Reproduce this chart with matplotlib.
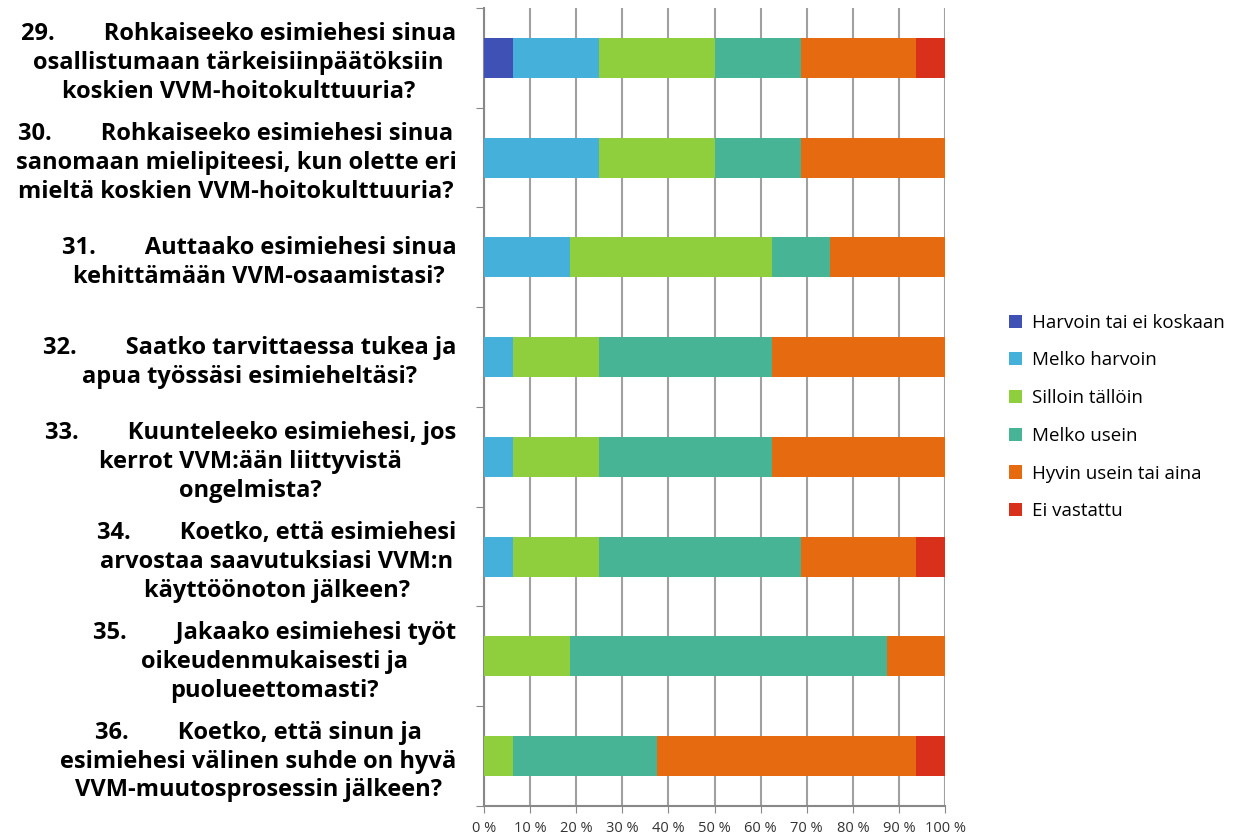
import numpy as np
import matplotlib
matplotlib.use('Agg')
import matplotlib.pyplot as plt

plt.rcParams['font.family'] = ['Open Sans', 'DejaVu Sans']

# kysymykset (ylhäältä alas)
questions = [
    '29.        Rohkaiseeko esimiehesi sinua\nosallistumaan tärkeisiinpäätöksiin\nkoskien VVM-hoitokulttuuria?',
    '30.        Rohkaiseeko esimiehesi sinua\nsanomaan mielipiteesi, kun olette eri\nmieltä koskien VVM-hoitokulttuuria?',
    '31.        Auttaako esimiehesi sinua\nkehittämään VVM-osaamistasi?',
    '32.        Saatko tarvittaessa tukea ja\napua työssäsi esimieheltäsi?',
    '33.        Kuunteleeko esimiehesi, jos\nkerrot VVM:ään liittyvistä\nongelmista?',
    '34.        Koetko, että esimiehesi\narvostaa saavutuksiasi VVM:n\nkäyttöönoton jälkeen?',
    '35.        Jakaako esimiehesi työt\noikeudenmukaisesti ja\npuolueettomasti?',
    '36.        Koetko, että sinun ja\nesimiehesi välinen suhde on hyvä\nVVM-muutosprosessin jälkeen?',
]

series = ['Harvoin tai ei koskaan', 'Melko harvoin', 'Silloin tällöin',
          'Melko usein', 'Hyvin usein tai aina', 'Ei vastattu']

harvoin = [6.25, 0, 0, 0, 0, 0, 0, 0]
melko_harvoin = [18.75, 25, 18.75, 6.25, 6.25, 6.25, 0, 0]
silloin = [25, 25, 43.75, 18.75, 18.75, 18.75, 18.75, 6.25]
melko_usein = [18.75, 18.75, 12.5, 37.5, 37.5, 43.75, 68.75, 31.25]
hyvin_usein = [25, 31.25, 25, 37.5, 37.5, 25, 12.5, 56.25]
ei_vastattu = [6.25, 0, 0, 0, 0, 6.25, 0, 6.25]

values = [harvoin, melko_harvoin, silloin, melko_usein, hyvin_usein, ei_vastattu]
colors = ['#3F51B5', '#45B0DA', '#8FCF3E', '#48B496', '#E66A10', '#D8301A']

fig = plt.figure(figsize=(12.56, 8.34), dpi=100)
ax = fig.add_axes([0.3854, 0.0336, 0.367, 0.9568])

y = np.arange(len(questions))
left = np.zeros(len(questions))
for name, vals, c in zip(series, values, colors):
    vals = np.array(vals)
    ax.barh(y, vals, left=left, height=0.4, color=c, label=name, zorder=3)
    left += vals

ax.set_ylim(len(questions) - 0.5, -0.5)
ax.set_xlim(0, 100)

# kategoriarajat vasemmalle akselille
ax.set_yticks(np.arange(-0.5, len(questions), 1))
ax.set_yticklabels([])
ax.tick_params(axis='y', length=6, color='#888888', direction='out')
ax.set_yticks(y, minor=True)
ax.set_yticklabels(questions, minor=True, fontsize=17, fontweight='bold',
                   ha='right', multialignment='center', linespacing=1.27)
ax.tick_params(axis='y', which='minor', length=0, pad=20)

ax.set_xticks(np.arange(0, 101, 10))
ax.set_xticklabels([f'{v} %' for v in range(0, 101, 10)], fontsize=10.5, color='#333333')
ax.tick_params(axis='x', length=5, color='#888888', direction='out', pad=6)
ax.grid(axis='x', color='#a0a0a0', linewidth=1.5, zorder=0)

for s in ['top', 'right']:
    ax.spines[s].set_visible(False)
ax.spines['left'].set_color('#888888')
ax.spines['bottom'].set_color('#888888')
ax.spines['left'].set_linewidth(1.5)
ax.spines['bottom'].set_linewidth(1.5)

ax.legend(loc='center left', bbox_to_anchor=(0.79, 0.5), bbox_transform=fig.transFigure,
          frameon=False, fontsize=13.5, handlelength=0.7, handleheight=0.7,
          labelspacing=1.05, handletextpad=0.5)

fig.savefig('out.png', dpi=100)
